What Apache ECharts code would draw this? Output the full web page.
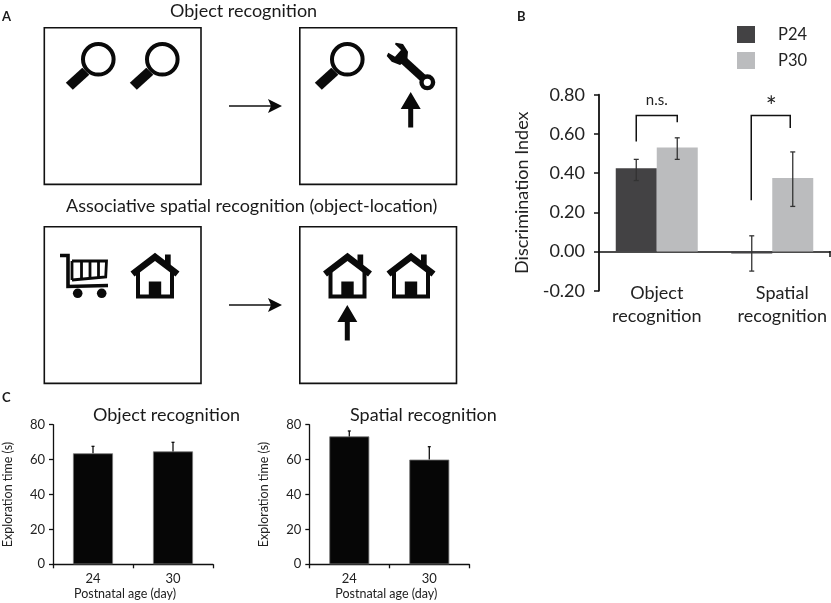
<!DOCTYPE html>
<html>
<head>
<meta charset="utf-8">
<style>html,body{margin:0;padding:0;background:#fff}#c{width:831px;height:603px}</style>
<script src="https://cdn.jsdelivr.net/npm/echarts@6/dist/echarts.min.js"></script>
</head>
<body>
<div id="c"></div>
<script>
const FONT = 'Lato, "Open Sans", sans-serif';
// Panel B
const indexCategories = ['Object\nrecognition', 'Spatial\nrecognition'];
const indexTicks = [-0.2, 0.8, 0.2];
const p24Index = [0.425, -0.01];
const p30Index = [0.53, 0.375];
const p24IndexLow = [0.362, -0.10];
const p24IndexHigh = [0.47, 0.08];
const p30IndexLow = [0.47, 0.23];
const p30IndexHigh = [0.58, 0.508];
// brackets: category, left foot value, top value, right foot value
const bracketData = [[0, 0.561, 0.694, 0.66], [1, 0.262, 0.694, 0.63]];
const bracketMarks = ['n.s.', '*'];
// Panel C
const ageCategories = ['24', '30'];
const objectTime = [63.6, 64.7];
const objectTimeHigh = [67.6, 69.9];
const spatialTime = [73.3, 60];
const spatialTimeHigh = [76.4, 67.4];

const chart = echarts.init(document.getElementById('c'), null, {renderer: 'canvas'});
const BAR_OFFSET = 20.5;

function errorSeries(xi, yi, low, high, offset, color, cap) {
  return {
    type: 'custom', xAxisIndex: xi, yAxisIndex: yi, z: 5, silent: true,
    data: low.map((l, i) => [i, l, high[i]]),
    renderItem(params, api) {
      const a = api.coord([api.value(0), api.value(1)]);
      const b = api.coord([api.value(0), api.value(2)]);
      const x = a[0] + offset;
      const st = {stroke: color, lineWidth: 1.3, fill: 'none'};
      const kids = [
        {type: 'line', shape: {x1: x, y1: a[1], x2: x, y2: b[1]}, style: st},
        {type: 'line', shape: {x1: x - cap, y1: b[1], x2: x + cap, y2: b[1]}, style: st}
      ];
      if (offset !== 0) {
        kids.push({type: 'line', shape: {x1: x - cap, y1: a[1], x2: x + cap, y2: a[1]}, style: st});
      }
      return {type: 'group', children: kids};
    }
  };
}

const bracketSeries = {
  type: 'custom', xAxisIndex: 0, yAxisIndex: 0, z: 6, silent: true,
  data: bracketData,
  renderItem(params, api) {
    const i = api.value(0);
    const c = api.coord([i, api.value(2)]);
    const dx = i === 0 ? BAR_OFFSET : 19.5;
    const cx = c[0] + (i === 0 ? 0 : -1.5);
    const l = api.coord([i, api.value(1)])[1];
    const r = api.coord([i, api.value(3)])[1];
    const mark = bracketMarks[i];
    return {type: 'group', children: [
      {type: 'polyline', shape: {points: [[cx - dx, l], [cx - dx, c[1]], [cx + dx, c[1]], [cx + dx, r]]},
       style: {stroke: '#111', lineWidth: 1.5, fill: 'none'}},
      {type: 'text', style: {text: mark, x: c[0] + (i === 0 ? 0 : -1), y: c[1] + (i === 0 ? -15 : -8),
        align: 'center', verticalAlign: 'middle',
        font: (i === 0 ? '15px ' : '26px ') + FONT, fill: '#222'}}
    ]};
  }
};

function yAxisC(grid) {
  return {
    type: 'value', gridIndex: grid, min: 0, max: 80, interval: 20,
    name: 'Exploration time (s)', nameLocation: 'middle', nameRotate: 90, nameGap: 39,
    nameTextStyle: {fontFamily: FONT, fontSize: 12.5, color: '#222'},
    axisLine: {show: true, lineStyle: {color: '#111', width: 1.3}},
    axisTick: {show: true, length: 4, lineStyle: {color: '#111', width: 1.3}},
    axisLabel: {fontFamily: FONT, fontSize: 13, color: '#222', margin: 8},
    splitLine: {show: false}
  };
}
function xAxisC(grid, pad) {
  return {
    type: 'category', gridIndex: grid, data: ageCategories,
    name: 'Postnatal age (day)', nameLocation: 'middle', nameGap: 23,
    nameTextStyle: {fontFamily: FONT, fontSize: 12.5, color: '#222', padding: pad},
    axisLine: {show: true, lineStyle: {color: '#111', width: 1.3}},
    axisTick: {show: true, length: 4, alignWithLabel: false, lineStyle: {color: '#111', width: 1.3}},
    axisLabel: {fontFamily: FONT, fontSize: 13, color: '#222', margin: 8}
  };
}
function timeBar(xi, values) {
  return {type: 'bar', xAxisIndex: xi, yAxisIndex: xi, data: values, barWidth: 40,
    itemStyle: {color: '#060606', borderColor: '#777', borderWidth: 0.8}};
}
function titleAt(text, left, top, size, weight) {
  return {text, left, top, textStyle: {fontFamily: FONT, fontSize: size, fontWeight: weight || 'normal', color: '#1a1a1a'}};
}

// Schematic icons of panel A
const black = {fill: '#0a0a0a'};
function box(x, y) {
  return {type: 'rect', shape: {x, y, width: 156.7, height: 156.7}, style: {fill: '#fff', stroke: '#111', lineWidth: 1.6}};
}
function magnifier(x, y) {
  return {type: 'group', x, y, children: [
    {type: 'polygon', shape: {points: [[-16, 8.5], [-9, 15.5], [-25.5, 30.5], [-32.5, 23.5]]}, style: black},
    {type: 'circle', shape: {cx: 0, cy: 0, r: 15.3}, style: {fill: '#fff', stroke: '#0a0a0a', lineWidth: 4}}
  ]};
}
function arrowRight(y) {
  return {type: 'group', children: [
    {type: 'line', shape: {x1: 229, y1: y, x2: 278, y2: y}, style: {stroke: '#111', lineWidth: 1.6}},
    {type: 'polygon', shape: {points: [[282, y], [268, y - 7], [271, y], [268, y + 7]]}, style: black}
  ]};
}
function arrowUp(x, y) {
  return {type: 'polygon', shape: {points: [[x, y], [x + 10, y + 17], [x + 2.5, y + 17], [x + 2.5, y + 35.5], [x - 2.5, y + 35.5], [x - 2.5, y + 17], [x - 10, y + 17]]}, style: black};
}
function house(x, y) {
  return {type: 'group', x, y, children: [
    {type: 'polygon', shape: {points: [[10, 1], [15.7, 1], [15.7, 16], [10, 12]]}, style: black},
    {type: 'polyline', shape: {points: [[-22.5, 20.5], [0, 3.3], [22.5, 20.5]]}, style: {stroke: '#0a0a0a', lineWidth: 6.5, fill: 'none'}},
    {type: 'polyline', shape: {points: [[-17, 17], [-17, 43], [17, 43], [17, 17]]}, style: {stroke: '#0a0a0a', lineWidth: 4, fill: 'none'}},
    {type: 'rect', shape: {x: -6.2, y: 28, width: 12.4, height: 15}, style: black}
  ]};
}
function wrench() {
  return {type: 'group', children: [
    {type: 'polygon', shape: {points: [[395.7, 42.7], [403, 44], [408, 51.7], [407.3, 60], [400, 65], [391.7, 61.7], [386.7, 56], [388.3, 52.7], [395, 56.7], [401, 50], [395, 44.3]]}, style: black},
    {type: 'line', shape: {x1: 401, y1: 58, x2: 424, y2: 79}, style: {stroke: '#0a0a0a', lineWidth: 8}},
    {type: 'circle', shape: {cx: 427.3, cy: 82.3, r: 5.8}, style: {fill: '#fff', stroke: '#0a0a0a', lineWidth: 4.4}}
  ]};
}
function cart() {
  const thick = {stroke: '#0a0a0a', lineWidth: 3.6, fill: 'none'};
  const thin = {stroke: '#0a0a0a', lineWidth: 2.8, fill: 'none'};
  return {type: 'group', children: [
    {type: 'polyline', shape: {points: [[60, 255.5], [68, 255.5], [68, 286.5], [108, 285.5]]}, style: thick},
    {type: 'polyline', shape: {points: [[72, 261], [106.5, 261], [105.7, 277], [72, 280]]}, style: thin},
    {type: 'line', shape: {x1: 72, y1: 261, x2: 72, y2: 280}, style: thin},
    {type: 'line', shape: {x1: 81.5, y1: 261, x2: 81.5, y2: 278}, style: thin},
    {type: 'line', shape: {x1: 90, y1: 261, x2: 90, y2: 277}, style: thin},
    {type: 'line', shape: {x1: 98.5, y1: 261, x2: 98.5, y2: 277}, style: thin},
    {type: 'circle', shape: {cx: 77.7, cy: 293.3, r: 4.8}, style: black},
    {type: 'circle', shape: {cx: 101.7, cy: 293.3, r: 4.8}, style: black}
  ]};
}

const option = {
  animation: false,
  backgroundColor: '#fff',
  title: [
    titleAt('Object recognition', 165, -3, 18),
    titleAt('Associative spatial recognition (object-location)', 61, 192, 18),
    titleAt('Object recognition', 88, 401, 18),
    titleAt('Spatial recognition', 345, 401, 18),
    titleAt('A', -3, 5, 13, 'bold'),
    titleAt('B', 512, 5, 13, 'bold'),
    titleAt('C', -3, 386, 13, 'bold')
  ],
  legend: {
    data: ['P24', 'P30'], orient: 'vertical', left: 732, top: 21, itemWidth: 18, itemHeight: 17,
    itemGap: 9, selectedMode: false, icon: 'rect',
    textStyle: {fontFamily: FONT, fontSize: 16.5, color: '#222', padding: [0, 0, 0, 18]}
  },
  grid: [
    {left: 599, top: 94.7, width: 231, height: 196},
    {left: 53, top: 424.7, width: 160, height: 139.6},
    {left: 309.3, top: 424.7, width: 160, height: 139.6}
  ],
  xAxis: [
    {type: 'category', gridIndex: 0,
     data: indexCategories.map((value, i) => i === 1 ? {value, textStyle: {padding: [0, 0, 0, 20]}} : value),
     axisLine: {show: true, onZero: true, lineStyle: {color: '#111', width: 1.5}},
     axisTick: {show: false},
     axisLabel: {fontFamily: FONT, fontSize: 18, color: '#222', margin: -9, lineHeight: 23, interval: 0}},
    xAxisC(1, [0, 16, 0, 0]),
    xAxisC(2, [0, 6, 0, 0])
  ],
  yAxis: [
    {type: 'value', gridIndex: 0, min: indexTicks[0], max: indexTicks[1], interval: indexTicks[2],
     name: 'Discrimination Index', nameLocation: 'middle', nameRotate: 90, nameGap: 54,
     nameTextStyle: {fontFamily: FONT, fontSize: 18, color: '#222', padding: [0, 0, 14, 0]},
     axisLine: {show: true, onZero: false, lineStyle: {color: '#111', width: 1.8}},
     axisTick: {show: true, length: 5, lineStyle: {color: '#111', width: 1.5}},
     axisLabel: {fontFamily: FONT, fontSize: 18, color: '#222', margin: 14, formatter: v => v.toFixed(2)},
     splitLine: {show: false}},
    yAxisC(1),
    yAxisC(2)
  ],
  series: [
    {name: 'P24', type: 'bar', xAxisIndex: 0, yAxisIndex: 0, data: p24Index, barWidth: 41, barGap: 0,
     itemStyle: {color: '#434244'}},
    {name: 'P30', type: 'bar', xAxisIndex: 0, yAxisIndex: 0, data: p30Index, barWidth: 41, barGap: 0,
     itemStyle: {color: '#bbbcbe'}},
    errorSeries(0, 0, p24IndexLow, p24IndexHigh, -BAR_OFFSET, '#333', 2.5),
    errorSeries(0, 0, p30IndexLow, p30IndexHigh, BAR_OFFSET, '#333', 2.5),
    bracketSeries,
    timeBar(1, objectTime),
    timeBar(2, spatialTime),
    errorSeries(1, 1, objectTime, objectTimeHigh, 0, '#111', 1.5),
    errorSeries(2, 2, spatialTime, spatialTimeHigh, 0, '#111', 1.5)
  ],
  graphic: [
    box(44.3, 27.7), box(299.8, 27.7), box(44.3, 226.7), box(299.8, 226.7),
    magnifier(98.3, 59.3), magnifier(162.3, 59.3), magnifier(347.3, 59.3), wrench(),
    arrowRight(106), arrowRight(305), arrowUp(410.7, 92), arrowUp(347.3, 305),
    cart(), house(155, 253.5), house(347.5, 253.5), house(411, 253.5),
    {type: 'line', shape: {x1: 830, y1: 251, x2: 830, y2: 257}, style: {stroke: '#111', lineWidth: 1.5}}
  ]
};
chart.setOption(option);
</script>
</body>
</html>
